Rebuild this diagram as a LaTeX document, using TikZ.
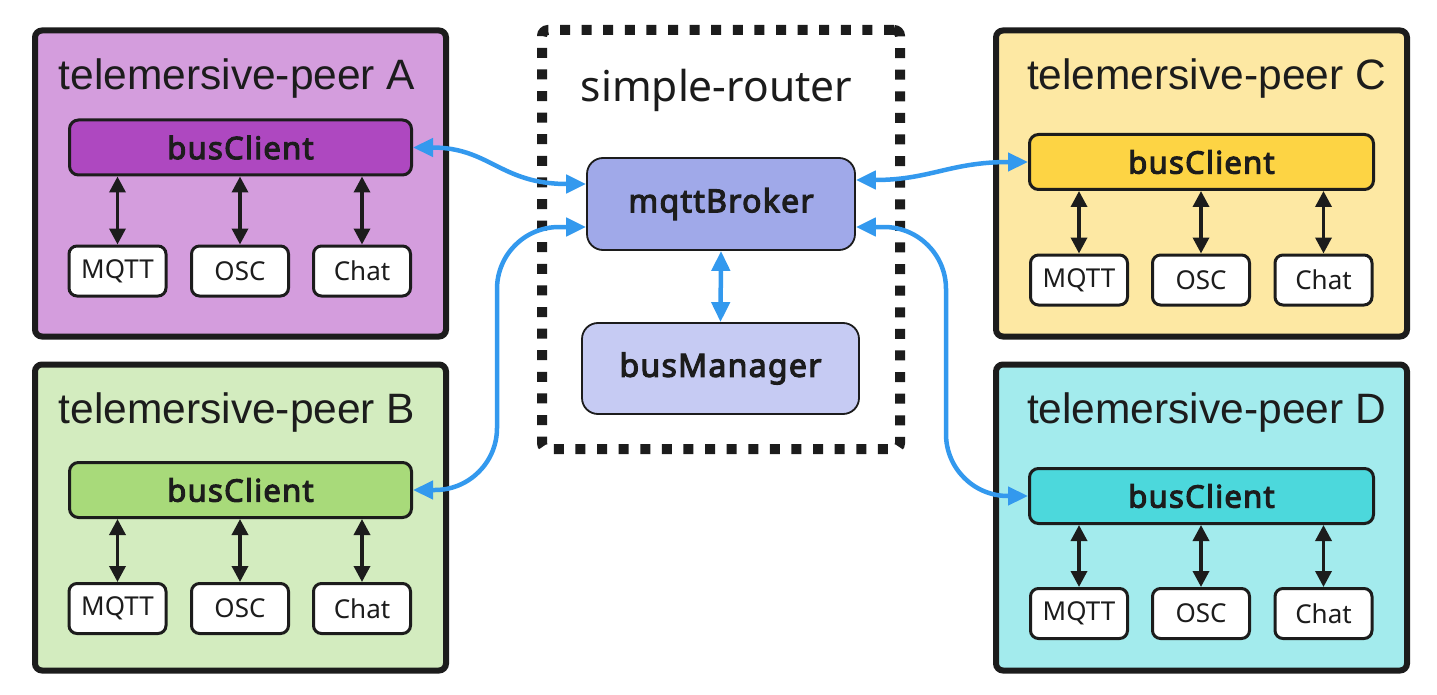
\documentclass[tikz,border=0pt]{standalone}
\usepackage{fontspec}
\setmainfont{Noto Sans}
\newfontfamily\boldsans{Noto Sans}[FakeBold=3.5, LetterSpace=4]
\newfontfamily\titlefont{Liberation Sans}
\usetikzlibrary{arrows.meta}
\definecolor{ink}{HTML}{1C1C1C}
\definecolor{peerA}{HTML}{D49DDD}
\definecolor{busA}{HTML}{AE48C0}
\definecolor{peerB}{HTML}{D3ECBF}
\definecolor{busB}{HTML}{A8DA7A}
\definecolor{peerC}{HTML}{FDE8A3}
\definecolor{busC}{HTML}{FDD444}
\definecolor{peerD}{HTML}{A3EBED}
\definecolor{busD}{HTML}{4CD8DC}
\definecolor{broker}{HTML}{A0A9E9}
\definecolor{manager}{HTML}{C6CBF3}
\definecolor{link}{HTML}{3399EE}
\tikzset{
  peerbox/.style={draw=ink, line width=6pt, rounded corners=7pt, minimum width=411pt, minimum height=306pt, inner sep=0pt},
  peertitle/.style={anchor=base, font=\titlefont\fontsize{42.5}{46}\selectfont, text=ink, inner sep=0pt},
  clientbox/.style={draw=ink, line width=3pt, rounded corners=9pt, minimum width=342pt, minimum height=55pt, inner sep=0pt, font=\boldsans\fontsize{31}{34}\selectfont, text=ink},
  protobox/.style={draw=ink, fill=white, line width=3pt, rounded corners=8pt, minimum width=97pt, minimum height=50pt, inner sep=0pt, font=\fontsize{26}{30}\selectfont, text=ink},
  corebox/.style={draw=ink, line width=1.8pt, rounded corners=16pt, inner sep=0pt, font=\boldsans\fontsize{32}{36}\selectfont, text=ink},
  routerbox/.style={draw=ink, line width=10pt, dash pattern=on 10pt off 11.6pt, rounded corners=6pt, minimum width=358pt, minimum height=419pt, inner sep=0pt},
  innerlink/.style={draw=ink, line width=3.5pt, {Triangle[length=16pt,width=16pt]}-{Triangle[length=16pt,width=16pt]}},
  netlink/.style={draw=link, line width=4.5pt, {Triangle[length=20pt,width=18pt]}-{Triangle[length=20pt,width=18pt]}}
}
\begin{document}
\begin{tikzpicture}[x=1pt,y=-1pt]
\useasboundingbox[fill=white] (0,0) rectangle (1437,695);

% router
\node[routerbox] (router) at (721,239.5) {};
\node[anchor=base, inner sep=0pt, font=\fontsize{42.5}{46}\selectfont, text=ink] (routertitle) at (716.5,102) {simple-router};
\node[corebox, fill=broker, minimum width=268pt, minimum height=92pt] (broker) at (721,204) {mqttBroker};
\node[corebox, fill=manager, minimum width=277pt, minimum height=91pt] (manager) at (720.5,368.5) {busManager};

% peers
\node[peerbox, fill=peerA] (peerA) at (240.5,183.5) {};
\node[peerbox, fill=peerB] (peerB) at (240.5,517.5) {};
\node[peerbox, fill=peerC] (peerC) at (1201.5,183.5) {};
\node[peerbox, fill=peerD] (peerD) at (1201.5,517.5) {};

\node[peertitle] (titleA) at (237,90) {telemersive-peer A};
\node[peertitle] (titleB) at (237,423) {telemersive-peer B};
\node[peertitle] (titleC) at (1206.5,90) {telemersive-peer C};
\node[peertitle] (titleD) at (1206.5,423) {telemersive-peer D};

\node[clientbox, fill=busA] (bcA) at (240.5,147.5) {busClient};
\node[clientbox, fill=busB] (bcB) at (240.5,490) {busClient};
\node[clientbox, fill=busC, minimum width=344pt] (bcC) at (1201.5,162) {busClient};
\node[clientbox, fill=busD, minimum width=344pt] (bcD) at (1201.5,496) {busClient};

\foreach \p/\y/\a/\b/\c in {A/271/117.5/240/362, B/608.5/117.5/240/362, C/280/1079/1201/1323.5, D/613.5/1079/1201/1323.5}{
  \node[protobox] (mq\p) at (\a,\y) {MQTT};
  \node[protobox] (os\p) at (\b,\y) {OSC};
  \node[protobox] (ch\p) at (\c,\y) {Chat};
  \draw[innerlink] (mq\p.north |- bc\p.south) -- (mq\p.north);
  \draw[innerlink] (os\p.north |- bc\p.south) -- (os\p.north);
  \draw[innerlink] (ch\p.north |- bc\p.south) -- (ch\p.north);
}

% network links
\coordinate (bendB) at (497,360);
\coordinate (bendD) at (946,360);
\draw[netlink] (bcA.east) .. controls (490,147.5) and (500,184) .. (broker.west |- 0,184);
\draw[netlink, rounded corners=62pt] (bcB.east) -| (bendB) |- (broker.west |- 0,227);
\draw[netlink] (bcC.west) .. controls (950,162) and (930,180) .. (broker.east |- 0,180);
\draw[netlink, rounded corners=62pt] (bcD.west) -| (bendD) |- (broker.east |- 0,227);
\draw[netlink] (broker.south) -- (manager.north);
\end{tikzpicture}
\end{document}
